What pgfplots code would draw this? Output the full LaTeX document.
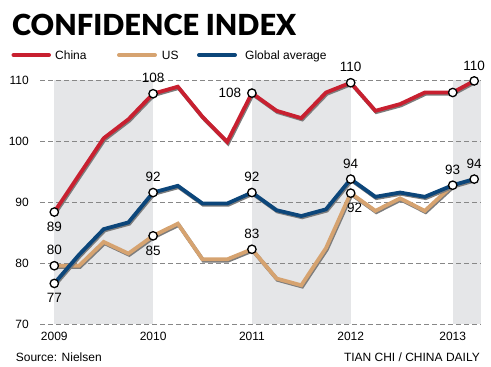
\documentclass[border=0pt]{standalone}
\usepackage{fontspec}
\setmainfont{Liberation Sans}
\newfontfamily\titlefont{Lato Black}
\usepackage{pgfplots}
\usepackage{pgfplotstable}
\pgfplotsset{compat=1.18}
\definecolor{cnred}{RGB}{200,32,48}
\definecolor{ustan}{RGB}{214,163,112}
\definecolor{glblue}{RGB}{12,70,122}
\definecolor{shade}{RGB}{229,230,232}
\definecolor{gridgray}{RGB}{135,135,135}
\definecolor{shadowc}{RGB}{125,125,125}

\pgfplotstableread{
x y
0 88.4
2 100.5
3 103.6
4 107.8
5 108.95
6 104.0
7 99.9
8 107.9
9 105.0
10 103.8
11 108.0
12 109.6
13 105.0
14 106.1
15 108.0
16.13 108.0
17 109.9
}\china

\pgfplotstableread{
x y
0 76.7
1 81.4
2 85.6
3 86.7
4 91.6
5 92.7
6 89.8
7 89.8
8 91.6
9 88.7
10 87.75
11 88.85
12 93.8
13 90.9
14 91.6
15 90.9
16.13 92.8
17 93.8
}\glob

\pgfplotstableread{
x y
0 79.6
1 79.6
2 83.5
3 81.6
4 84.5
5 86.5
6 80.65
7 80.65
8 82.3
9 77.5
10 76.4
11 82.5
12 91.5
13 88.6
14 90.65
15 88.6
16.13 92.8
}\us

\begin{document}
\begin{tikzpicture}
\begin{axis}[
  name=main,
  at={(0pt,0pt)}, anchor=south west, scale only axis,
  width=440.7pt, height=244pt,
  xmin=-0.579, xmax=17.263, ymin=70, ymax=110,
  axis line style={draw=none}, major tick length=0pt,
  ytick={70,80,90,100,110}, yticklabels={70,80,90,100,110},
  xtick={0,4,8,12,16.13}, xticklabels={2009,2010,2011,2012,2013},
  ymajorgrids, grid style={gridgray, dash pattern=on 5pt off 3pt, line width=0.7pt},
  clip=false, set layers,
  ticklabel style={font=\fontsize{12}{14}\selectfont, inner sep=0pt},
  yticklabel style={anchor=east, xshift=-11pt},
  xticklabel style={anchor=north, yshift=-8pt},
  every node near coord/.append style={font=\fontsize{13.5}{15}\selectfont, inner sep=0pt, text=black},
  point meta=explicit symbolic,
]
\addplot[draw=none, fill=shade, on layer=axis background] coordinates {(0,70) (0,110) (4,110) (4,70)} -- cycle;
\addplot[draw=none, fill=shade, on layer=axis background] coordinates {(8,70) (8,110) (12,110) (12,70)} -- cycle;
\addplot[draw=none, fill=shade, on layer=axis background] coordinates {(16.13,70) (16.13,110) (17.263,110) (17.263,70)} -- cycle;

\addplot[shadowc, line width=3.8pt, no marks, xshift=0.9pt, yshift=-1.3pt] table[x=x,y=y, meta=y] {\us};
\addplot[ustan, line width=3.8pt, no marks] table[x=x,y=y, meta=y] {\us};
\addplot[shadowc, line width=3.8pt, no marks, xshift=0.9pt, yshift=-1.3pt] table[x=x,y=y, meta=y] {\glob};
\addplot[glblue, line width=3.8pt, no marks] table[x=x,y=y, meta=y] {\glob};
\addplot[shadowc, line width=3.8pt, no marks, xshift=0.9pt, yshift=-1.3pt] table[x=x,y=y, meta=y] {\china};
\addplot[cnred, line width=3.8pt, no marks] table[x=x,y=y, meta=y] {\china};

\addplot[only marks, mark=*, mark size=4.2pt, mark options={fill=white, draw=black, line width=1.3pt},
  nodes near coords, every node near coord/.append style={anchor=south, yshift=10pt}]
  coordinates {(4,107.8) [108] (12,109.6) [110] (17,109.9) [110]
               (4,91.6) [92] (8,91.6) [92] (12,93.8) [94] (16.13,92.8) [93] (17,93.8) [94]
               (0,79.6) [80] (8,82.3) [83]};
\addplot[only marks, mark=*, mark size=4.2pt, mark options={fill=white, draw=black, line width=1.3pt},
  nodes near coords, every node near coord/.append style={anchor=north, yshift=-9.5pt}]
  coordinates {(0,88.4) [89] (0,76.7) [77] (4,84.5) [85]};
\addplot[only marks, mark=*, mark size=4.2pt, mark options={fill=white, draw=black, line width=1.3pt},
  nodes near coords, every node near coord/.append style={anchor=north, yshift=-9.5pt, xshift=4pt}]
  coordinates {(12,91.5) [92]};
\addplot[only marks, mark=*, mark size=4.2pt, mark options={fill=white, draw=black, line width=1.3pt},
  nodes near coords, every node near coord/.append style={anchor=east, xshift=-10pt, yshift=0pt}]
  coordinates {(8,107.9) [108]};
\addplot[only marks, mark=*, mark size=4.2pt, mark options={fill=white, draw=black, line width=1.3pt}]
  coordinates {(16.13,108.0)};
\end{axis}
\begin{scope}[shift={(main.south west)}, xshift=-40pt, yshift=-42.7pt]
\node[anchor=base west, inner sep=0pt, font=\titlefont\fontsize{29}{30}\selectfont] at (12pt,331pt) {CONFIDENCE INDEX};
\draw[cnred, line width=4pt, line cap=round] (13.5pt,312pt) -- (49pt,312pt);
\node[anchor=base west, inner sep=0pt, font=\fontsize{12}{14}\selectfont] at (55pt,307.7pt) {China};
\draw[ustan, line width=4pt, line cap=round] (119pt,312pt) -- (155pt,312pt);
\node[anchor=base west, inner sep=0pt, font=\fontsize{12}{14}\selectfont] at (161.7pt,307.7pt) {US};
\draw[glblue, line width=4pt, line cap=round] (199pt,312pt) -- (235pt,312pt);
\node[anchor=base west, inner sep=0pt, font=\fontsize{12}{14}\selectfont] at (245pt,307.7pt) {Global average};
\node[anchor=base west, inner sep=0pt, font=\fontsize{12}{14}\selectfont] at (15.7pt,5.3pt) {Source: Nielsen};
\node[anchor=base east, inner sep=0pt, font=\fontsize{12}{14}\selectfont] at (480pt,5.3pt) {TIAN CHI / CHINA DAILY};
\pgfresetboundingbox
\useasboundingbox (0pt,0pt) rectangle (491pt,367pt);
\end{scope}
\end{tikzpicture}
\end{document}
